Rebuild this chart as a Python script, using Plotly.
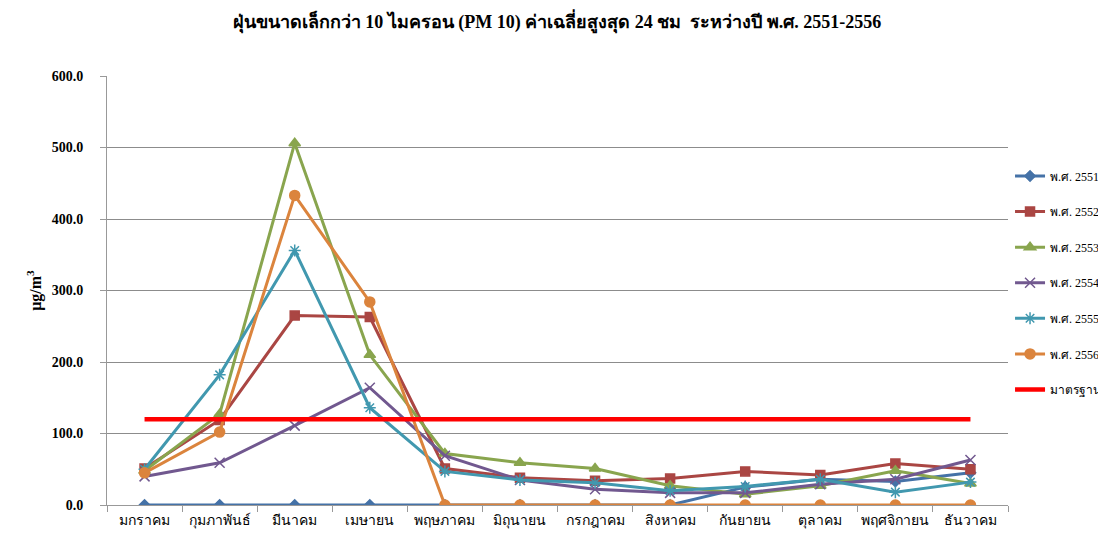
import plotly.graph_objects as go

months = ["มกราคม", "กุมภาพันธ์", "มีนาคม", "เมษายน", "พฤษภาคม", "มิถุนายน",
          "กรกฎาคม", "สิงหาคม", "กันยายน", "ตุลาคม", "พฤศจิกายน", "ธันวาคม"]

y2551 = [0, 0, 0, 0, 0, 0, 0, 0, 25, 36, 33, 45]
y2552 = [51, 119, 265, 263, 51, 38, 34, 37, 47, 42, 58, 50]
y2553 = [48, 127, 506, 210, 72, 59, 51, 27, 15, 27, 48, 30]
y2554 = [40, 59, 111, 164, 69, 35, 22, 17, 17, 29, 36, 63]
y2555 = [50, 182, 356, 136, 47, 35, 31, 20, 26, 36, 18, 32]
y2556 = [45, 102, 433, 284, 0, 0, 0, 0, 0, 0, 0, 0]
standard = [120] * 12

series = [
    ("พ.ศ. 2551", y2551, "#4572A7", "diamond", 8),
    ("พ.ศ. 2552", y2552, "#AA4643", "square", 9),
    ("พ.ศ. 2553", y2553, "#89A54E", "triangle-up", 10),
    ("พ.ศ. 2554", y2554, "#71588F", "x-thin-open", 10),
    ("พ.ศ. 2555", y2555, "#4198AF", "asterisk-open", 10),
    ("พ.ศ. 2556", y2556, "#DB843D", "circle", 10),
]

SERIF = "Liberation Serif, Times New Roman, serif"

fig = go.Figure()
for i, (name, vals, color, sym, size) in enumerate(series):
    fig.add_trace(go.Scatter(
        x=months, y=vals, name=name, mode="lines+markers",
        line=dict(color=color, width=3),
        marker=dict(symbol=sym, size=size, color=color,
                    line=dict(color=color, width=1.5)),
        legendgroup=f"g{i}",
    ))
fig.add_trace(go.Scatter(
    x=months, y=standard, name="มาตรฐาน", mode="lines",
    line=dict(color="#FF0000", width=4.5), legendgroup="g6",
))

fig.update_layout(
    width=1098, height=548,
    paper_bgcolor="white", plot_bgcolor="white",
    margin=dict(l=99, r=98, t=68, b=51),
    title=dict(text="<b>ฝุ่นขนาดเล็กกว่า 10 ไมครอน (PM 10) ค่าเฉลี่ยสูงสุด 24 ชม  ระหว่างปี พ.ศ. 2551-2556</b>",
               x=0.5, xanchor="center", y=0.9745, yanchor="middle", yref="container",
               font=dict(family=SERIF, size=18, color="black")),
    legend=dict(xref="container", yref="container",
                x=0.9126, xanchor="left", y=0.720, yanchor="top",
                font=dict(family=SERIF, size=12, color="black"),
                tracegroupgap=16.6, itemwidth=30, bgcolor="rgba(0,0,0,0)"),
    showlegend=True,
)
fig.update_xaxes(
    type="category", showgrid=False, showline=True, linecolor="#999999", linewidth=1,
    ticks="outside", tickson="boundaries", ticklen=6, tickcolor="#999999",
    tickfont=dict(family=SERIF, size=14, color="black"), ticklabelstandoff=2,
    tickangle=0, automargin=False,
    range=[-0.5, 11.5],
)
fig.update_yaxes(
    range=[0, 600], dtick=100, tickformat=".1f",
    showgrid=True, gridcolor="#8C8C8C", gridwidth=1,
    showline=True, linecolor="#999999", linewidth=1,
    ticks="outside", ticklen=6, tickcolor="#999999", ticklabelstandoff=14,
    tickfont=dict(family=SERIF, size=14, color="black", weight="bold"),
    title=dict(text="<b>μg/m<sup>3</sup></b>", font=dict(family=SERIF, size=16, color="black"), standoff=6),
    zeroline=False, automargin=False,
)

fig.write_html("out.html")
